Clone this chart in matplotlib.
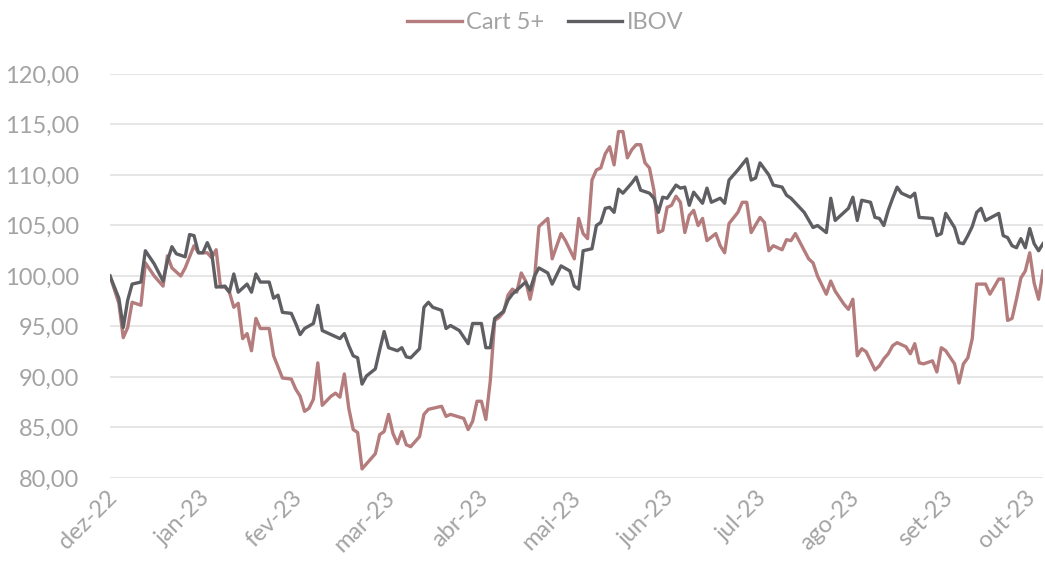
import matplotlib.pyplot as plt
import matplotlib.transforms as mtransforms
from matplotlib.ticker import FuncFormatter

months = ['dez-22', 'jan-23', 'fev-23', 'mar-23', 'abr-23', 'mai-23',
          'jun-23', 'jul-23', 'ago-23', 'set-23', 'out-23']

# trading-day index -> value (base 100)
ibov_day = [0, 2, 3, 4, 5, 7, 8, 10, 12, 13, 14, 15, 17, 18, 19, 20, 21, 22, 23, 24,
            26, 27, 28, 29, 31, 32, 33, 34, 36, 37, 38, 39, 41, 42, 43, 44, 46, 47, 48, 51,
            52, 53, 54, 55, 56, 57, 58, 60, 61, 62, 63, 65, 66, 67, 68, 70, 71, 72, 73, 75,
            76, 77, 79, 81, 82, 84, 85, 86, 87, 89, 90, 91, 92, 94, 95, 96, 97, 99, 100, 102,
            104, 105, 106, 107, 109, 110, 111, 112, 113, 114, 115, 116, 117, 118, 119, 120, 122, 123, 124, 125,
            126, 128, 129, 130, 131, 132, 134, 135, 136, 138, 139, 140, 142, 144, 145, 146, 147, 149, 150, 152,
            153, 154, 157, 159, 160, 162, 163, 164, 167, 168, 169, 170, 172, 173, 174, 175, 176, 177, 178, 179,
            181, 182, 183, 186, 187, 188, 189, 191, 192, 193, 194, 195, 196, 197, 198, 201, 202, 203, 204, 205,
            206, 207, 208, 209, 210, 211]
ibov_val = [100.0, 97.8, 94.9, 97.6, 99.2, 99.4, 102.5, 101.2, 99.5, 101.5, 102.9, 102.2, 101.9, 104.1, 104.0, 102.3, 102.3, 103.3, 102.3, 98.9,
            99.0, 98.4, 100.2, 98.4, 99.2, 98.4, 100.2, 99.4, 99.4, 97.8, 98.1, 96.4, 96.3, 95.3, 94.2, 94.8, 95.3, 97.1, 94.6, 94.0,
            93.8, 94.3, 93.1, 92.1, 91.9, 89.3, 90.1, 90.8, 92.7, 94.5, 92.9, 92.6, 92.9, 92.0, 91.9, 92.8, 96.9, 97.4, 96.9, 96.6,
            94.8, 95.1, 94.6, 93.3, 95.3, 95.3, 92.9, 92.9, 95.8, 96.5, 97.6, 98.2, 98.6, 99.4, 98.6, 100.0, 100.8, 100.3, 99.2, 101.0,
            100.5, 99.0, 98.7, 102.5, 102.7, 105.0, 105.3, 106.7, 106.8, 106.3, 108.6, 108.2, 108.7, 109.2, 109.8, 108.5, 108.2, 107.7, 106.3, 107.8,
            107.7, 109.0, 108.7, 108.8, 107.0, 108.3, 107.2, 108.7, 107.3, 107.7, 107.2, 109.5, 110.5, 111.6, 109.5, 109.7, 111.2, 110.0, 109.0, 108.8,
            108.0, 107.7, 106.3, 104.8, 105.0, 104.3, 107.7, 105.5, 106.7, 107.8, 105.5, 107.5, 107.3, 105.8, 105.7, 105.0, 106.5, 107.7, 108.8, 108.2,
            107.8, 108.2, 105.8, 105.7, 104.0, 104.2, 106.2, 104.8, 103.3, 103.2, 104.0, 104.9, 106.3, 106.7, 105.5, 106.2, 104.0, 103.8, 103.0, 102.8,
            103.7, 102.8, 104.7, 103.2, 102.5, 103.2]

cart_day = [0, 2, 3, 4, 5, 7, 8, 10, 12, 13, 14, 16, 17, 19, 20, 22, 23, 24, 25, 26,
            27, 28, 29, 30, 31, 32, 33, 34, 36, 37, 39, 41, 42, 43, 44, 45, 46, 47, 48, 50,
            51, 52, 53, 54, 55, 56, 57, 58, 60, 61, 62, 63, 64, 65, 66, 67, 68, 70, 71, 72,
            73, 75, 76, 77, 80, 81, 82, 83, 84, 85, 86, 87, 88, 89, 90, 91, 92, 93, 94, 95,
            96, 97, 99, 100, 102, 103, 105, 106, 107, 108, 109, 110, 111, 112, 113, 114, 115, 116, 117, 118,
            119, 120, 121, 122, 123, 124, 125, 126, 127, 128, 129, 130, 131, 132, 133, 134, 135, 137, 138, 139,
            140, 142, 143, 144, 145, 147, 148, 149, 150, 152, 153, 154, 155, 158, 159, 160, 162, 163, 164, 166,
            167, 168, 169, 170, 171, 173, 174, 175, 176, 177, 178, 180, 181, 182, 183, 184, 186, 187, 188, 189,
            191, 192, 193, 194, 195, 196, 198, 199, 201, 202, 203, 204, 205, 206, 207, 208, 209, 210, 211]
cart_val = [100.0, 97.3, 93.9, 94.9, 97.4, 97.1, 101.3, 100.0, 99.0, 102.0, 100.8, 100.0, 100.8, 103.0, 102.3, 102.3, 101.8, 102.6, 98.9, 98.9,
            98.4, 96.9, 97.3, 93.8, 94.3, 92.6, 95.8, 94.8, 94.8, 92.1, 89.9, 89.8, 88.8, 88.1, 86.6, 86.9, 87.8, 91.4, 87.2, 88.1,
            88.4, 88.0, 90.3, 86.9, 84.8, 84.5, 80.9, 81.4, 82.4, 84.3, 84.6, 86.3, 84.4, 83.4, 84.6, 83.3, 83.1, 84.1, 86.3, 86.8,
            86.9, 87.1, 86.1, 86.3, 85.9, 84.8, 85.6, 87.6, 87.6, 85.8, 89.6, 95.6, 95.9, 96.4, 98.1, 98.7, 98.4, 100.3, 99.5, 97.7,
            99.7, 104.9, 105.7, 101.7, 104.2, 103.5, 101.7, 105.7, 104.2, 103.7, 109.5, 110.5, 110.7, 112.1, 112.8, 111.0, 114.3, 114.3, 111.7, 112.5,
            113.0, 113.0, 111.2, 110.7, 108.5, 104.3, 104.5, 106.8, 107.0, 107.9, 107.3, 104.3, 106.0, 106.5, 105.0, 105.7, 103.5, 104.2, 103.0, 102.3,
            105.2, 106.3, 107.3, 107.3, 104.3, 105.8, 105.3, 102.5, 103.0, 102.6, 103.6, 103.5, 104.2, 101.7, 101.3, 100.0, 98.2, 99.5, 98.5, 97.2,
            96.7, 97.7, 92.1, 92.8, 92.5, 90.7, 91.1, 91.8, 92.3, 93.1, 93.4, 93.0, 92.3, 93.3, 91.4, 91.3, 91.6, 90.5, 92.9, 92.6,
            91.3, 89.4, 91.3, 91.9, 93.8, 99.2, 99.2, 98.2, 99.7, 99.7, 95.6, 95.8, 97.7, 99.8, 100.5, 102.3, 99.3, 97.7, 100.5]

cart_color = '#B47C7C'
ibov_color = '#5F5F63'
text_color = '#A3A3A3'

plt.rcParams['font.family'] = ['Lato', 'DejaVu Sans']

fig = plt.figure(figsize=(10.45, 5.63), dpi=100)
ax = fig.add_axes([110 / 1045, 1 - 478 / 563, (1043 - 110) / 1045, (478 - 74) / 563])

ax.plot(cart_day, cart_val, color=cart_color, linewidth=2.4, label='Cart 5+')
ax.plot(ibov_day, ibov_val, color=ibov_color, linewidth=2.4, label='IBOV')

ax.set_xlim(0, 211)
ax.set_ylim(80, 120)
ax.set_yticks(range(80, 121, 5))
ax.yaxis.set_major_formatter(FuncFormatter(lambda v, p: f'{v:.2f}'.replace('.', ',')))

# month labels every 21 trading days, drawn as rotated texts under the axis
month_pos = list(range(0, 211, 21))
ax.set_xticks(month_pos)
ax.set_xticklabels([])
for pos, lab in zip(month_pos, months):
    dx = -4 if pos < month_pos[-1] else -14  # keep the last label inside the figure
    off = mtransforms.ScaledTranslation(dx / 100, -9 / 100, fig.dpi_scale_trans)
    ax.text(pos, 0, lab, transform=ax.get_xaxis_transform() + off, rotation=45,
            rotation_mode='anchor', ha='right', va='top', fontsize=17, color=text_color)

ax.grid(axis='y', color='#E6E6E6', linewidth=1.4)
ax.set_axisbelow(True)
for s in ax.spines.values():
    s.set_visible(False)
ax.tick_params(axis='both', length=0, colors=text_color, labelsize=17)
ax.tick_params(axis='y', pad=22)

fig.legend(loc='center', bbox_to_anchor=(0.522, 0.96), ncol=2, frameon=False,
           fontsize=17, labelcolor=text_color, handlelength=2.3, handletextpad=0.2,
           columnspacing=1.0)

fig.savefig('out.png', dpi=100)
